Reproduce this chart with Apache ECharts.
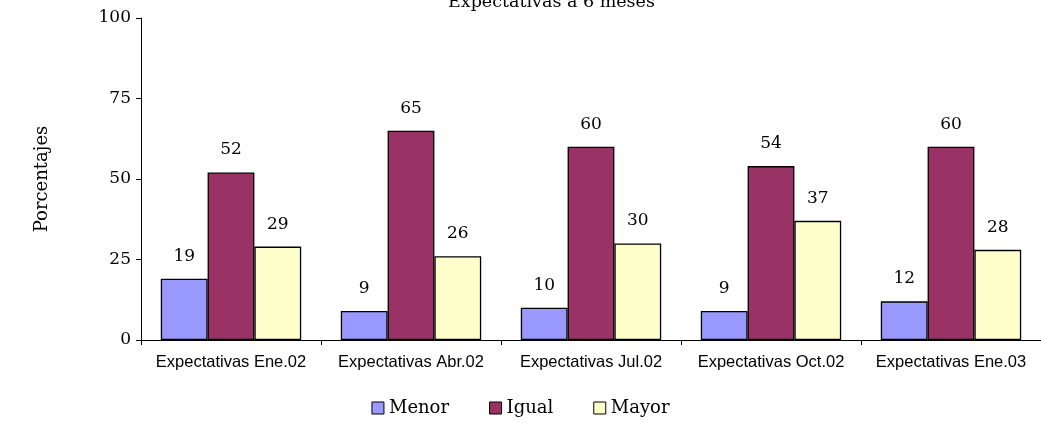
<!DOCTYPE html>
<html><head><meta charset="utf-8">
<script src="https://cdn.jsdelivr.net/npm/echarts@6/dist/echarts.min.js"></script>
<style>html,body{margin:0;padding:0;background:#fff}#c{width:1041px;height:423px}</style>
</head><body><div id="c"></div>
<script>
const categories = ["Expectativas Ene.02","Expectativas Abr.02","Expectativas Jul.02","Expectativas Oct.02","Expectativas Ene.03"];
const menor = [19, 9, 10, 9, 12];
const igual = [52, 65, 60, 54, 60];
const mayor = [29, 26, 30, 37, 28];
const yTicks = [0, 25, 50, 75, 100];

const serif = "'DejaVu Serif', 'Liberation Serif', serif";
const chart = echarts.init(document.getElementById('c'));
function ser(name, data, color) {
  return {
    name, type: 'bar', data, barGap: '0%', barCategoryGap: '22%',
    itemStyle: { color, borderColor: '#000', borderWidth: 1.3 },
    label: { show: true, position: 'top', distance: 14, color: '#000', fontFamily: serif, fontSize: 17 }
  };
}
chart.setOption({
  animation: false,
  title: { text: 'Expectativas a 6 meses', left: 443, top: -12,
    textStyle: { fontFamily: serif, fontSize: 17.5, fontWeight: 'normal', color: '#000' } },
  legend: { bottom: 1, left: 'center', itemWidth: 12, itemHeight: 12, itemGap: 40,
    icon: 'rect',
    itemStyle: { borderColor: '#000', borderWidth: 1 },
    textStyle: { fontFamily: serif, fontSize: 18, color: '#000' },
    data: ['Menor', 'Igual', 'Mayor'] },
  grid: { left: 141, right: 0, top: 18, bottom: 83 },
  xAxis: { type: 'category', data: categories,
    axisLine: { lineStyle: { color: '#000' } },
    axisTick: { show: true, interval: 0, length: 5, lineStyle: { color: '#000' } },
    axisLabel: { interval: 0, hideOverlap: false, color: '#000', fontFamily: "'Liberation Sans', Arial, sans-serif", fontSize: 16.5, margin: 14 } },
  yAxis: { type: 'value', min: yTicks[0], max: yTicks[yTicks.length - 1], interval: 25,
    name: 'Porcentajes', nameLocation: 'middle', nameGap: 90, nameRotate: 90,
    nameTextStyle: { fontFamily: serif, fontSize: 18, color: '#000' },
    axisLine: { show: true, lineStyle: { color: '#000' } },
    axisTick: { show: true, length: 5, lineStyle: { color: '#000' } },
    splitLine: { show: false },
    axisLabel: { color: '#000', fontFamily: serif, fontSize: 17, margin: 10 } },
  series: [ser('Menor', menor, '#9999FF'), ser('Igual', igual, '#993366'), ser('Mayor', mayor, '#FFFFCC')]
});
</script></body></html>
